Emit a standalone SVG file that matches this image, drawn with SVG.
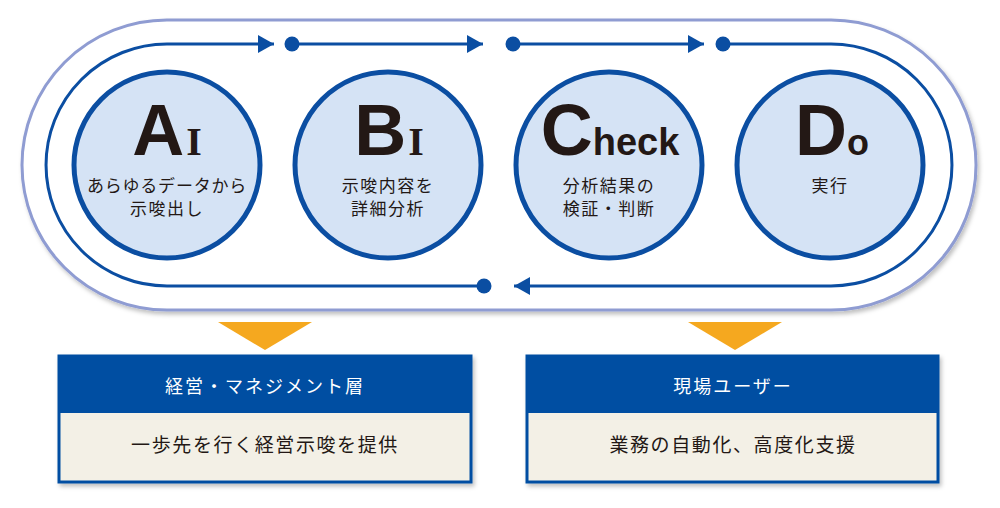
<svg xmlns="http://www.w3.org/2000/svg" width="1000" height="508" viewBox="0 0 1000 508">
<style>
.track{fill:none;stroke:#0b4ea2;stroke-width:3}
.circ{fill:#d5e3f5;stroke:#0b4ea2;stroke-width:5}
.big{font-family:"Liberation Sans",Arial,sans-serif;font-weight:bold;fill:#231815}
.ser{font-family:"Liberation Serif","Times New Roman",serif;font-weight:bold}
.sub{font-family:"Noto Sans CJK JP","Noto Sans",sans-serif;font-size:17px;fill:#231815;text-anchor:middle;letter-spacing:1.5px}
.hd{font-family:"Noto Sans CJK JP","Noto Sans",sans-serif;font-size:18px;fill:#ffffff;text-anchor:middle;letter-spacing:2px}
.bd{font-family:"Noto Sans CJK JP","Noto Sans",sans-serif;font-size:19px;fill:#231815;text-anchor:middle;letter-spacing:1.6px}
.tri{fill:#f5a81f}
</style>
<defs>
<marker id="arr" markerUnits="userSpaceOnUse" markerWidth="18" markerHeight="20" refX="16" refY="9" orient="auto">
<path d="M0,0 L16,9 L0,18 Z" fill="#0b4ea2"/>
</marker>
<marker id="dot" markerUnits="userSpaceOnUse" markerWidth="18" markerHeight="18" refX="9" refY="9">
<circle cx="9" cy="9" r="7.5" fill="#0b4ea2"/>
</marker>
<filter id="sh" x="-5%" y="-5%" width="110%" height="115%">
<feDropShadow dx="2" dy="3" stdDeviation="2" flood-color="#000" flood-opacity="0.25"/>
</filter>
</defs>
<rect x="22" y="20" width="954" height="290" rx="145" ry="145" fill="#ffffff" stroke="#8f9cd2" stroke-width="3" filter="url(#sh)"/>
<g id="connectors">
<path class="track" d="M484,286 H167 A121,121 0 0 1 167,44 H274" marker-start="url(#dot)" marker-end="url(#arr)"/>
<path class="track" d="M292,44 H483" marker-start="url(#dot)" marker-end="url(#arr)"/>
<path class="track" d="M513,44 H704" marker-start="url(#dot)" marker-end="url(#arr)"/>
<path class="track" d="M723,44 H831 A121,121 0 0 1 831,286 H514" marker-start="url(#dot)" marker-end="url(#arr)"/>
</g>
<g id="nodeA">
<circle class="circ" cx="167" cy="165" r="93"/>
<text class="big" x="167" y="155" text-anchor="middle"><tspan font-size="72">A</tspan><tspan class="ser" font-size="40" dx="2">I</tspan></text>
<text class="sub" x="167" y="192" style="letter-spacing:0.8px">あらゆるデータから</text>
<text class="sub" x="167" y="215">示唆出し</text>
</g>
<g id="nodeB">
<circle class="circ" cx="388" cy="165" r="93"/>
<text class="big" x="389" y="155" text-anchor="middle"><tspan font-size="72">B</tspan><tspan class="ser" font-size="40" dx="2">I</tspan></text>
<text class="sub" x="388" y="192">示唆内容を</text>
<text class="sub" x="388" y="215">詳細分析</text>
</g>
<g id="nodeC">
<circle class="circ" cx="609" cy="165" r="93"/>
<text class="big" x="610" y="155" text-anchor="middle"><tspan font-size="72">C</tspan><tspan font-size="38">heck</tspan></text>
<text class="sub" x="609" y="192">分析結果の</text>
<text class="sub" x="609" y="215">検証・判断</text>
</g>
<g id="nodeD">
<circle class="circ" cx="830" cy="165" r="93"/>
<text class="big" x="832" y="155" text-anchor="middle"><tspan font-size="72">D</tspan><tspan font-size="36">o</tspan></text>
<text class="sub" x="830" y="192">実行</text>
</g>
<g id="arrowLeft"><polygon class="tri" points="218,322 312,322 265,350"/></g>
<g id="arrowRight"><polygon class="tri" points="688,322 782,322 735,350"/></g>
<g id="boxLeft">
<rect x="59" y="356" width="412" height="126" fill="#f3f0e6" stroke="#004ea2" stroke-width="3" filter="url(#sh)"/>
<rect x="59" y="356" width="412" height="57" fill="#004ea2"/>
<text class="hd" x="265" y="393">経営・マネジメント層</text>
<text class="bd" x="265" y="452">一歩先を行く経営示唆を提供</text>
</g>
<g id="boxRight">
<rect x="527" y="356" width="411" height="126" fill="#f3f0e6" stroke="#004ea2" stroke-width="3" filter="url(#sh)"/>
<rect x="527" y="356" width="411" height="57" fill="#004ea2"/>
<text class="hd" x="733" y="393">現場ユーザー</text>
<text class="bd" x="733" y="452">業務の自動化、高度化支援</text>
</g>
</svg>
